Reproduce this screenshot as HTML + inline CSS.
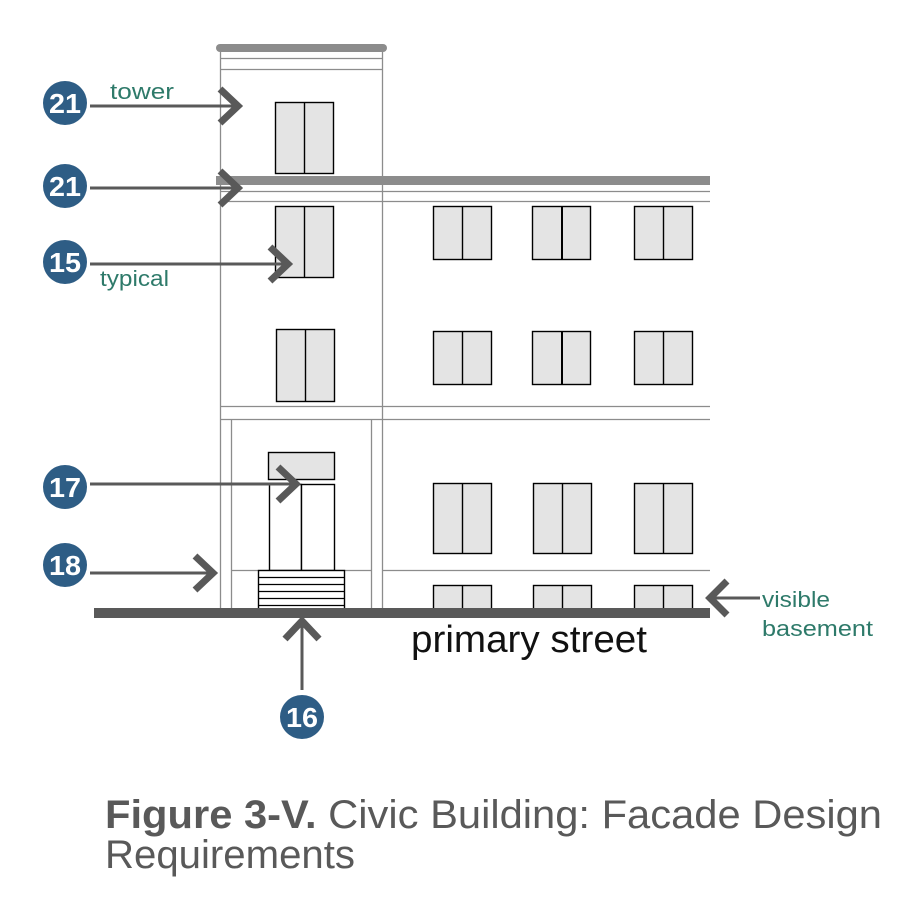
<!DOCTYPE html>
<html><head><meta charset="utf-8"><style>html,body{margin:0;padding:0;background:#fff}svg{display:block}</style></head>
<body>
<svg width="922" height="911" viewBox="0 0 922 911" xmlns="http://www.w3.org/2000/svg" font-family="Liberation Sans, sans-serif">
<rect width="922" height="911" fill="#fff"/>
<g stroke="#8c8c8c" stroke-width="1.3" fill="none">
<!-- tower -->
<line x1="220.5" y1="48" x2="220.5" y2="608"/>
<line x1="382.5" y1="48" x2="382.5" y2="608"/>
<line x1="220" y1="58.5" x2="382" y2="58.5"/>
<line x1="220" y1="69.5" x2="382" y2="69.5"/>
<line x1="220" y1="191.5" x2="710" y2="191.5"/>
<line x1="220" y1="201.5" x2="710" y2="201.5"/>
<line x1="220" y1="406.5" x2="710" y2="406.5"/>
<line x1="220" y1="419.5" x2="710" y2="419.5"/>
<line x1="231.5" y1="419" x2="231.5" y2="608"/>
<line x1="371.5" y1="419" x2="371.5" y2="608"/>
<line x1="231" y1="570.5" x2="371" y2="570.5"/>
<line x1="382" y1="570.5" x2="710" y2="570.5"/>
</g>
<rect x="216" y="44" width="171" height="8" rx="4" fill="#8c8c8c"/>
<rect x="216" y="176" width="494" height="9" fill="#8c8c8c"/>
<g fill="#e4e4e4" stroke="#000" stroke-width="1.4">
<rect x="275.5" y="102.5" width="58" height="71"/>
<rect x="275.5" y="206.5" width="58" height="71"/>
<rect x="433.5" y="206.5" width="58" height="53"/>
<rect x="532.5" y="206.5" width="58" height="53"/>
<rect x="634.5" y="206.5" width="58" height="53"/>
<rect x="276.5" y="329.5" width="58" height="72"/>
<rect x="433.5" y="331.5" width="58" height="53"/>
<rect x="532.5" y="331.5" width="58" height="53"/>
<rect x="634.5" y="331.5" width="58" height="53"/>
<rect x="268.5" y="452.5" width="66" height="27"/>
<rect x="433.5" y="483.5" width="58" height="70"/>
<rect x="533.5" y="483.5" width="58" height="70"/>
<rect x="634.5" y="483.5" width="58" height="70"/>
<rect x="433.5" y="585.5" width="58" height="24"/>
<rect x="533.5" y="585.5" width="58" height="24"/>
<rect x="634.5" y="585.5" width="58" height="24"/>
</g>
<g stroke="#000" stroke-width="1.4">
<line x1="304.5" y1="102" x2="304.5" y2="173"/>
<line x1="304.5" y1="206" x2="304.5" y2="277"/>
<line x1="462.5" y1="206" x2="462.5" y2="259"/>
<line x1="562" y1="206" x2="562" y2="259" stroke-width="2"/>
<line x1="663.5" y1="206" x2="663.5" y2="259"/>
<line x1="305.5" y1="329" x2="305.5" y2="401"/>
<line x1="462.5" y1="331" x2="462.5" y2="384"/>
<line x1="562" y1="331" x2="562" y2="384" stroke-width="2"/>
<line x1="663.5" y1="331" x2="663.5" y2="384"/>
<line x1="462.5" y1="483" x2="462.5" y2="553"/>
<line x1="562.5" y1="483" x2="562.5" y2="553"/>
<line x1="663.5" y1="483" x2="663.5" y2="553"/>
<line x1="462.5" y1="585" x2="462.5" y2="609"/>
<line x1="562.5" y1="585" x2="562.5" y2="609"/>
<line x1="663.5" y1="585" x2="663.5" y2="609"/>
</g>
<g fill="#fff" stroke="#000" stroke-width="1.4">
<rect x="269.5" y="484.5" width="32" height="86"/>
<rect x="301.5" y="484.5" width="33" height="86"/>
<rect x="258.5" y="570.5" width="86" height="39"/>
</g>
<g stroke="#000" stroke-width="1.3">
<line x1="258" y1="577.5" x2="345" y2="577.5"/>
<line x1="258" y1="584.5" x2="345" y2="584.5"/>
<line x1="258" y1="591.5" x2="345" y2="591.5"/>
<line x1="258" y1="598.5" x2="345" y2="598.5"/>
<line x1="258" y1="605.5" x2="345" y2="605.5"/>
</g>
<rect x="94" y="608" width="616" height="10" fill="#595959"/>
<!-- arrows -->
<g stroke="#595959" fill="none">
<g stroke-width="3">
<line x1="90" y1="106" x2="238" y2="106"/>
<line x1="90" y1="188" x2="238" y2="188"/>
<line x1="90" y1="264" x2="288" y2="264"/>
<line x1="90" y1="484" x2="296" y2="484"/>
<line x1="90" y1="573" x2="213" y2="573"/>
<line x1="302" y1="690" x2="302" y2="621"/>
<line x1="710" y1="598" x2="760" y2="598"/>
</g>
<g stroke-width="7">
<polyline points="220,89 238,106 220,123"/>
<polyline points="220,171 238,188 220,205"/>
<polyline points="270,247 288,264 270,281"/>
<polyline points="278,467 296,484 278,501"/>
<polyline points="195,556 213,573 195,590"/>
<polyline points="285,639 302,621 319,639"/>
<polyline points="727,581 710,598 727,615"/>
</g>
</g>
<!-- circles -->
<g fill="#2e5d85">
<circle cx="65" cy="103" r="22"/>
<circle cx="65" cy="186" r="22"/>
<circle cx="65" cy="262" r="22"/>
<circle cx="65" cy="487" r="22"/>
<circle cx="65" cy="565" r="22"/>
<circle cx="302" cy="717" r="22"/>
</g>
<g fill="#fff" font-weight="bold" font-size="28" text-anchor="middle">
<text x="65" y="113" textLength="32" lengthAdjust="spacingAndGlyphs">21</text>
<text x="65" y="196" textLength="32" lengthAdjust="spacingAndGlyphs">21</text>
<text x="65" y="272" textLength="32" lengthAdjust="spacingAndGlyphs">15</text>
<text x="65" y="497" textLength="32" lengthAdjust="spacingAndGlyphs">17</text>
<text x="65" y="575" textLength="32" lengthAdjust="spacingAndGlyphs">18</text>
<text x="302" y="727" textLength="32" lengthAdjust="spacingAndGlyphs">16</text>
</g>
<g fill="#2e7a6a" font-size="22">
<text x="110" y="99" textLength="64" lengthAdjust="spacingAndGlyphs">tower</text>
<text x="100" y="286" textLength="69" lengthAdjust="spacingAndGlyphs">typical</text>
<text x="762" y="607" textLength="68" lengthAdjust="spacingAndGlyphs">visible</text>
<text x="762" y="636" textLength="111" lengthAdjust="spacingAndGlyphs">basement</text>
</g>
<text x="411" y="652" font-size="38" fill="#111" textLength="236" lengthAdjust="spacingAndGlyphs">primary street</text>
<text x="105" y="828" font-size="40" fill="#595959" textLength="777" lengthAdjust="spacingAndGlyphs"><tspan font-weight="bold">Figure 3-V.</tspan>  Civic Building: Facade Design</text>
<text x="105" y="868" font-size="40" fill="#595959" textLength="250" lengthAdjust="spacingAndGlyphs">Requirements</text>
</svg>
</body></html>
